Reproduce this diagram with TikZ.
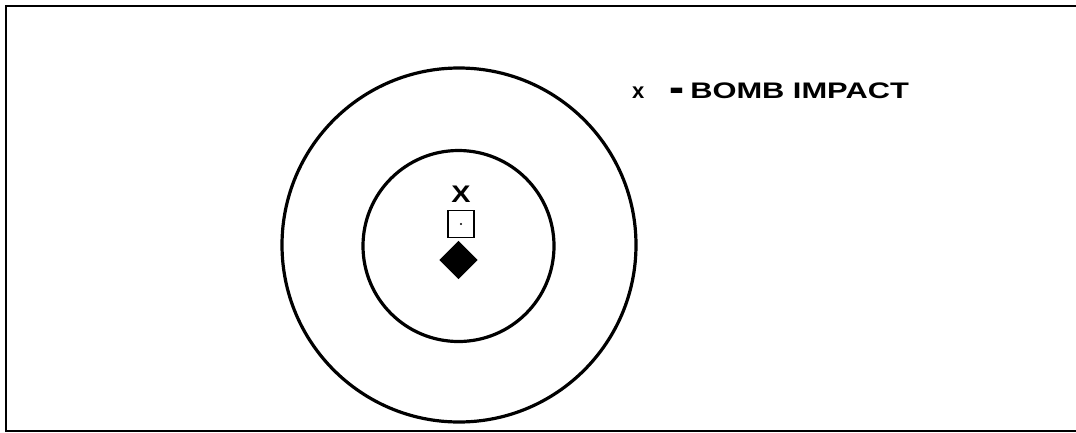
\documentclass[tikz,border=0pt]{standalone}
\usepackage{fontspec}
\setmainfont{Liberation Sans}
\begin{document}
\begin{tikzpicture}[x=1pt,y=-1pt,
  ring/.style={draw=black,line width=3.2pt},
  frameline/.style={draw=black,line width=2.8pt},
  lbl/.style={font=\fontsize{22.5}{22.5}\selectfont\bfseries,inner sep=0pt,anchor=base west}]
\useasboundingbox (0,0) rectangle (1076,432);
% frame
\coordinate (tl) at (6,6);
\coordinate (tr) at (1076,6);
\coordinate (bl) at (6,431);
\coordinate (br) at (1076,431);
\draw[frameline] (tr) -- (tl) -- (bl) -- (br);
% rings
\coordinate (c) at (459,245);
\draw[ring] (c) circle[radius=177];
\draw[ring] (458.5,246) circle[radius=95.5];
% target marks
\node[font=\fontsize{24}{24}\selectfont\bfseries,inner sep=0pt,xscale=1.2] (xmark) at (461,194.5) {X};
\node[draw=black,line width=1.8pt,minimum width=26pt,minimum height=27pt,inner sep=0pt] (sq) at (461,224) {};
\fill (sq.center) circle[radius=1.2];
\node[fill=black,minimum width=27pt,minimum height=27pt,inner sep=0pt,rotate=45] (dia) at (458.5,260) {};
% legend
\node[lbl,font=\fontsize{22}{22}\selectfont\bfseries] (lx) at (632,98) {x};
\node[lbl,xscale=2,yscale=2] (ldash) at (669,102) {-};
\node[lbl,xscale=1.37] (ltext) at (690,98) {BOMB IMPACT};
\end{tikzpicture}
\end{document}
